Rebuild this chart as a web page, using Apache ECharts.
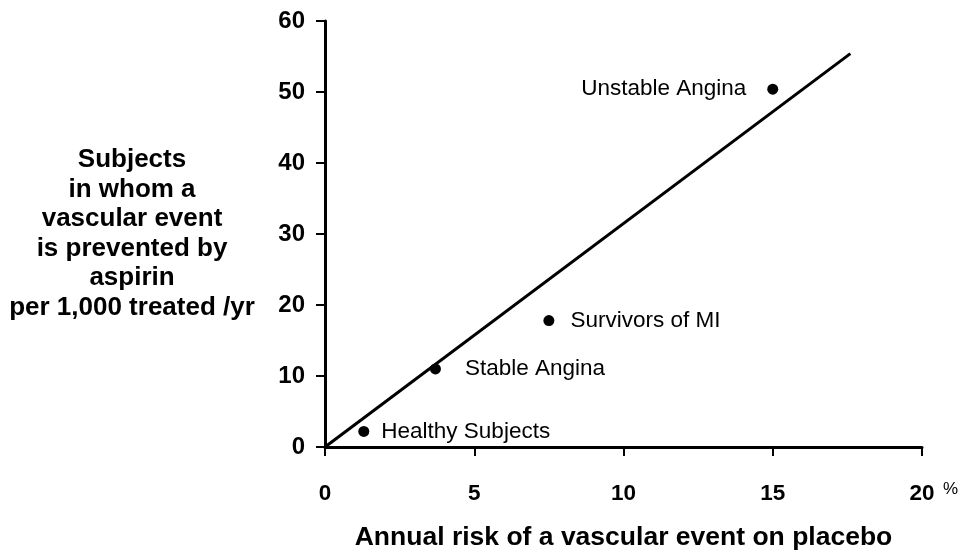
<!DOCTYPE html>
<html>
<head>
<meta charset="utf-8">
<script src="https://cdn.jsdelivr.net/npm/echarts@6/dist/echarts.min.js"></script>
<style>
    html, body { margin: 0; padding: 0; background: #ffffff; }
    #chart { width: 966px; height: 550px; }
</style>
</head>
<body>
<div id="chart"></div>
<script>
    // groups and their values
    var groupNames = ['Healthy Subjects', 'Stable Angina', 'Survivors of MI', 'Unstable Angina'];
    var annualRisk = [1.3, 3.7, 7.5, 15];       // % on placebo
    var prevented = [2.2, 11, 17.8, 50.4];      // per 1,000 treated /yr
    var labelSide = ['right', 'right', 'right', 'left'];
    var labelGap = [12, 24, 16, 21];
    // regression line end points
    var lineX = [0, 17.6];
    var lineY = [0, 55.4];

    var xTicks = [0, 5, 10, 15, 20];
    var yTicks = [0, 10, 20, 30, 40, 50, 60];

    var font = 'Arial, "Liberation Sans", Helvetica, sans-serif';

    var points = groupNames.map(function (name, i) {
        return {
            name: name,
            value: [annualRisk[i], prevented[i]],
            label: { position: labelSide[i], distance: labelGap[i] }
        };
    });
    var linePts = lineX.map(function (x, i) { return [x, lineY[i]]; });

    var myChart = echarts.init(document.getElementById('chart'));
    myChart.setOption({
        backgroundColor: '#ffffff',
        animation: false,
        grid: { left: 325, right: 44, top: 21, bottom: 103, containLabel: false, outerBoundsMode: 'none' },
        xAxis: {
            type: 'value',
            min: xTicks[0],
            max: xTicks[xTicks.length - 1],
            interval: 5,
            name: 'Annual risk of a vascular event on placebo',
            nameLocation: 'middle',
            nameGap: 77,
            nameTextStyle: { fontFamily: font, fontWeight: 'bold', fontSize: 26.5, color: '#000' },
            axisLine: { onZero: false, lineStyle: { color: '#000', width: 3 } },
            axisTick: { length: 9, lineStyle: { color: '#000', width: 2 } },
            axisLabel: { margin: 35, fontFamily: font, fontWeight: 'bold', fontSize: 22.5, color: '#000' },
            splitLine: { show: false }
        },
        yAxis: {
            type: 'value',
            min: yTicks[0],
            max: yTicks[yTicks.length - 1],
            interval: 10,
            name: 'Subjects\nin whom a\nvascular event\nis prevented by\naspirin\nper 1,000 treated /yr',
            nameLocation: 'middle',
            nameRotate: 0,
            nameGap: 193,
            nameTextStyle: {
                fontFamily: font, fontWeight: 'bold', fontSize: 26, color: '#000',
                align: 'center', verticalAlign: 'middle', lineHeight: 29.5,
                padding: [14, 0, 0, 0]
            },
            axisLine: { onZero: false, lineStyle: { color: '#000', width: 3 } },
            axisTick: { length: 9, lineStyle: { color: '#000', width: 2 } },
            axisLabel: { margin: 20, fontFamily: font, fontWeight: 'bold', fontSize: 24, color: '#000' },
            splitLine: { show: false }
        },
        graphic: [{
            type: 'text',
            left: 943,
            top: 481,
            style: { text: '%', fontFamily: font, fontSize: 17, fill: '#000' }
        }],
        series: [
            {
                type: 'line',
                data: linePts,
                symbol: 'none',
                lineStyle: { color: '#000', width: 3 },
                z: 2
            },
            {
                type: 'scatter',
                data: points,
                symbolSize: 11,
                itemStyle: { color: '#000', opacity: 1 },
                label: {
                    show: true,
                    formatter: '{b}',
                    fontFamily: font,
                    fontSize: 22.5,
                    color: '#000'
                },
                z: 3
            }
        ]
    });
</script>
</body>
</html>
